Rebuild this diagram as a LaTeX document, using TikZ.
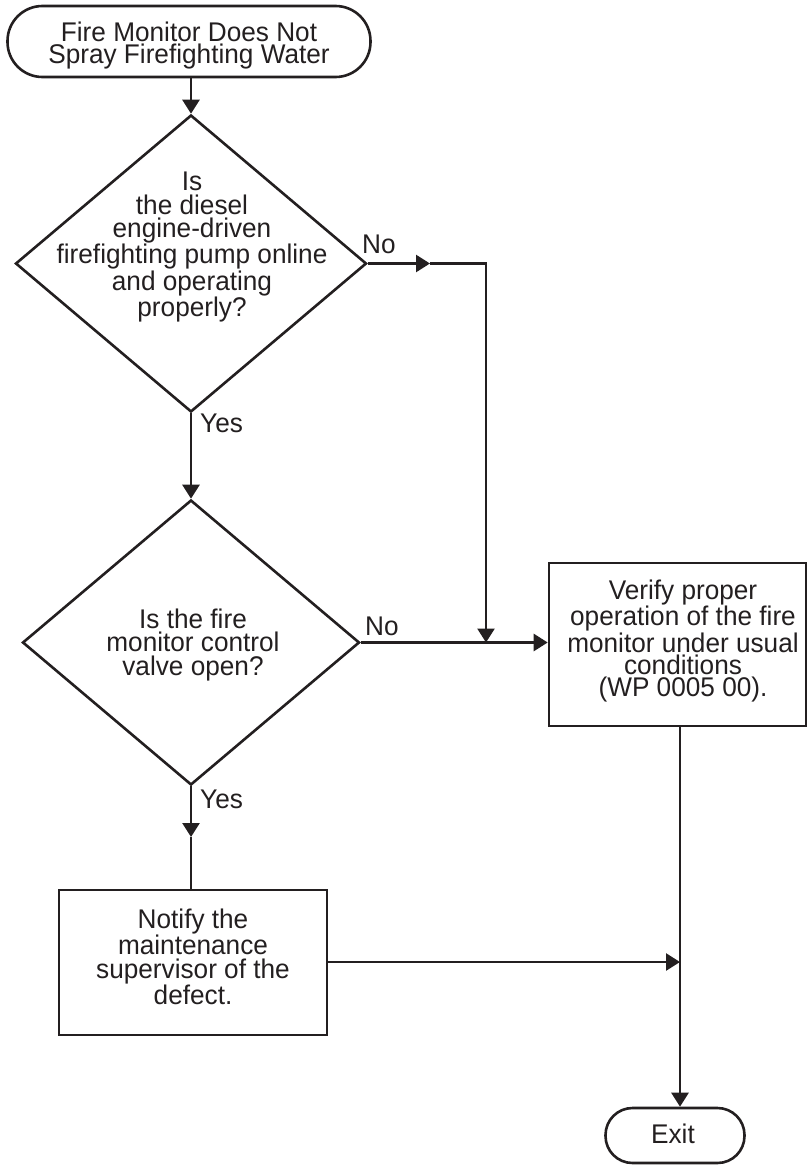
\documentclass[tikz,border=0pt]{standalone}
\usepackage{fontspec}
\setmainfont[FakeStretch=0.97]{Liberation Sans}
\usetikzlibrary{arrows.meta,shapes.geometric}
\definecolor{ink}{RGB}{35,31,32}
\begin{document}
\begin{tikzpicture}[x=1pt,y=-1pt,
  every node/.style={inner sep=0pt, text=ink},
  outline/.style={draw=ink, line width=2.6pt},
  terminal/.style={outline, rectangle, rounded corners=#1},
  decision/.style={outline, diamond},
  stepbox/.style={outline, rectangle},
  label/.style={align=center, font=\fontsize{27}{22}\selectfont},
  label2/.style={align=center, font=\fontsize{27}{23.5}\selectfont},
  tag/.style={anchor=base west, font=\fontsize{27}{22}\selectfont},
  wire/.style={draw=ink, line width=2.6pt},
  flow/.style={wire, -{Triangle[length=14pt,width=17pt]}}]
\useasboundingbox (0,0) rectangle (809,1167);

% shapes
\node[terminal=35pt, minimum width=363pt, minimum height=71pt] (start) at (189,41.5) {};
\node[label] (starttxt) at (189,45.5) {Fire Monitor Does Not\\Spray Firefighting Water};

\node[decision, minimum width=351pt, minimum height=297pt] (d1) at (191,263.5) {};
\node[label2] (d1txt) at (192,247) {Is\\the diesel\\engine-driven\\firefighting pump online\\and operating\\properly?};

\node[decision, minimum width=337pt, minimum height=285pt] (d2) at (191,642.5) {};
\node[label2] (d2txt) at (193,645) {Is the fire\\monitor control\\valve open?};

\node[stepbox, minimum width=257pt, minimum height=163pt] (verify) at (677.5,644.5) {};
\node[label] (verifytxt) at (683,641) {Verify proper\\operation of the fire\\monitor under usual\\conditions\\(WP 0005 00).};

\node[stepbox, minimum width=268pt, minimum height=145pt] (notify) at (193,962.5) {};
\node[label2] (notifytxt) at (193,957) {Notify the\\maintenance\\supervisor of the\\defect.};

\node[terminal=27pt, minimum width=139pt, minimum height=55pt] (exit) at (675,1135.5) {};
\node[label] (exittxt) at (673,1133.5) {Exit};

% branch labels
\node[tag] (no1) at (362,253) {No};
\node[tag] (yes1) at (200,432) {Yes};
\node[tag] (no2) at (365,635) {No};
\node[tag] (yes2) at (200,808) {Yes};

% bend and junction points
\coordinate (c1) at (430,263.5);
\coordinate (j1) at (486,642.5);
\coordinate (c2) at (191,837);
\coordinate (j2) at (680,962);

% connectors
\draw[flow] (d1.north |- start.south) -- (d1.north);
\draw[flow] (d1.east) -- (c1);
\draw[flow] (c1) -- (c1 -| j1) -- (j1);
\draw[flow] (d1.south) -- (d2.north);
\draw[flow] (d2.east) -- (d2.east -| verify.west);
\draw[flow] (d2.south) -- (c2);
\draw[wire] (c2) -- (c2 |- notify.north);
\draw[flow] (notify.east |- j2) -- (j2);
\draw[flow] (verify.south -| j2) -- (j2 |- exit.north);
\end{tikzpicture}
\end{document}
